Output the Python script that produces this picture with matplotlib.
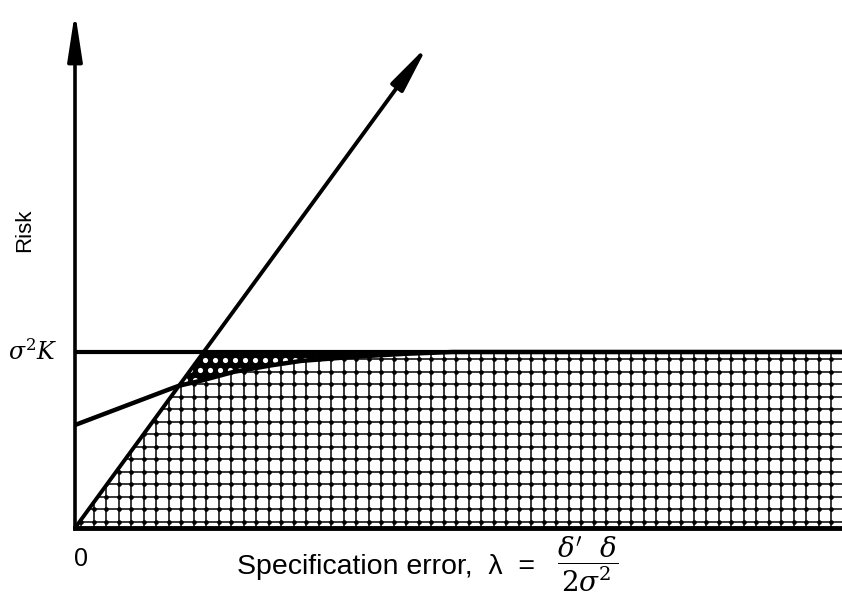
import numpy as np
import matplotlib
matplotlib.use('Agg')
import matplotlib.pyplot as plt

plt.rcParams['font.family'] = ['Liberation Sans', 'DejaVu Sans']
plt.rcParams['mathtext.fontset'] = 'dejavuserif'

# Risk curves (arbitrary units)
sigma2K = 1.76                 # risk of the unrestricted estimator
restricted_slope = 1.368       # risk of the restricted estimator grows linearly in lambda
restricted_end = 3.53
pretest_lambda = [0.0, 0.5, 1.03, 1.25, 1.58, 1.92, 2.25, 2.75, 3.25, 3.75, 7.67]
pretest_risk = [1.03, 1.22, 1.42, 1.47, 1.56, 1.62, 1.67, 1.71, 1.74, 1.76, 1.76]
lambda_max = 7.67
risk_max = 5.16
cell = 0.125

fig = plt.figure(figsize=(8.42, 6.02), dpi=100)
ax = fig.add_axes([75 / 842, 74 / 602, 767 / 842, 516 / 602])
ax.set_xlim(0, lambda_max)
ax.set_ylim(0, risk_max)
ax.axis('off')

lam = np.linspace(0, lambda_max, 2000)
restricted = restricted_slope * lam
pretest = np.interp(lam, pretest_lambda, pretest_risk)
lower = np.minimum(restricted, pretest)

# gridded region under the smaller of the two risks
region = ax.fill_between(lam, 0, lower, facecolor='white', edgecolor='none', zorder=1)
clip_path = region.get_paths()[0]
gx = np.arange(cell / 2, lambda_max, cell)
gy = np.arange(cell / 2, sigma2K, cell)
vl = ax.vlines(gx, 0, sigma2K, color='black', lw=1.1, zorder=2)
hl = ax.hlines(gy, 0, lambda_max, color='black', lw=1.1, zorder=2)
XX, YY = np.meshgrid(gx, gy)
dots = ax.scatter(XX.ravel(), YY.ravel(), s=11, marker='o', color='black', zorder=2,
                  linewidths=0)
for art in (vl, hl, dots):
    art.set_clip_path(clip_path, ax.transData)

# region where the pretest risk beats both alternatives: solid with white dots
upper = np.minimum(restricted, sigma2K)
dense = ax.fill_between(lam, pretest, upper, where=upper > pretest + 1e-3,
                        facecolor='black', edgecolor='none', zorder=3)
dense_path = dense.get_paths()[0]
dx = np.arange(0, lambda_max, 0.1)
dy = np.arange(sigma2K - 0.3, sigma2K, 0.1)
DX, DY = np.meshgrid(dx, dy)
DX[1::2] += 0.05
holes = ax.scatter(DX.ravel(), DY.ravel() + 0.02, s=14, marker='o', color='white',
                   linewidths=0, zorder=4)
holes.set_clip_path(dense_path, ax.transData)

# curves and axes
ax.plot([0, lambda_max], [sigma2K, sigma2K], color='black', lw=3, zorder=5,
        solid_capstyle='butt')
ax.plot([0, lambda_max], [0, 0], color='black', lw=3.5, zorder=5, clip_on=False)
ax.plot(lam, pretest, color='black', lw=3.2, zorder=5)
head = '-|>,head_length=1.3,head_width=0.2'
ax.annotate('', xy=(restricted_end, restricted_slope * restricted_end), xytext=(0, 0),
            arrowprops=dict(arrowstyle=head, mutation_scale=22, lw=2.8, color='black',
                            shrinkA=0, shrinkB=0), zorder=6)
ax.annotate('', xy=(0, risk_max), xytext=(0, 0),
            arrowprops=dict(arrowstyle=head, mutation_scale=22, lw=2.6, color='black',
                            shrinkA=0, shrinkB=0), zorder=6)

# labels
ax.text(-0.18, sigma2K, r'$\sigma^2 K$', ha='right', va='center', fontsize=17)
ax.text(0.06, -0.31, '0', ha='center', va='center', fontsize=18)
ax.text(-0.5, 2.98, 'Risk', rotation=90, ha='center', va='center', fontsize=16)
ax.text(4.6, -0.39, 'Specification error,  λ  =', ha='right', va='center',
        fontsize=20.5)
ax.text(5.13, -0.36, r'$\dfrac{\delta^{\prime}\ \ \delta}{2\sigma^2}$',
        ha='center', va='center', fontsize=20)

fig.savefig('out.png', dpi=100)
